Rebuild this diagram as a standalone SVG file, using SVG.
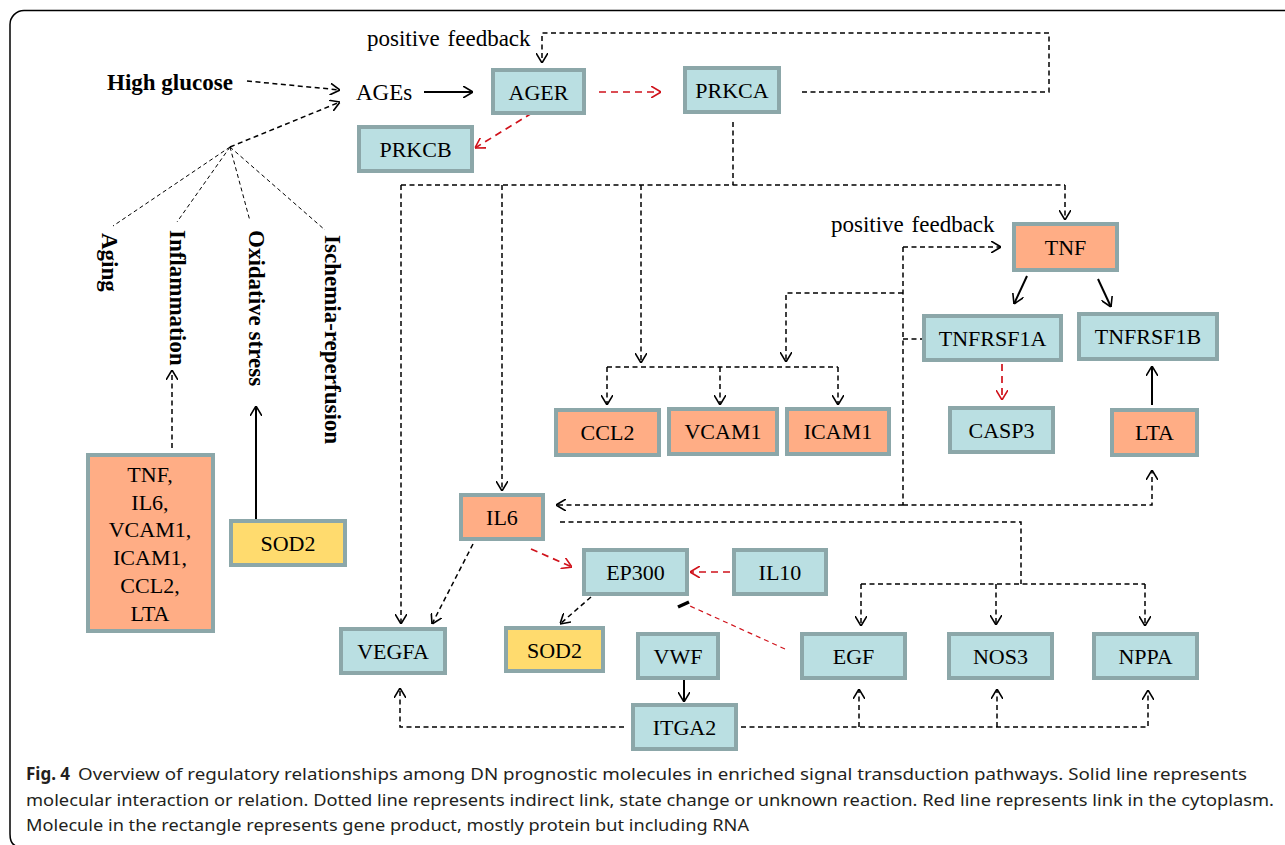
<svg xmlns="http://www.w3.org/2000/svg" width="1285" height="845" viewBox="0 0 1285 845" font-family="'Liberation Serif', 'Times New Roman', serif">
<style>
text.t{font-family:"Liberation Serif","Times New Roman",serif;font-size:22px;fill:#000}
text.l{font-size:23px}
.b{font-weight:bold}
.c{text-anchor:middle}
.blue{fill:#BADFE2;stroke:#8CA7A9;stroke-width:4}
.org{fill:#FFAD85;stroke:#8CA7A9;stroke-width:4}
.yel{fill:#FFDB6E;stroke:#8CA7A9;stroke-width:4}
.d{fill:none;stroke:#000;stroke-width:1.5;stroke-dasharray:5 3.5}
.f{fill:none;stroke:#000;stroke-width:1;stroke-dasharray:4 3}
.s{fill:none;stroke:#000;stroke-width:2}
.r{fill:none;stroke:#D0121B;stroke-width:1.7;stroke-dasharray:7 5}
.rt{fill:none;stroke:#D0121B;stroke-width:1.2;stroke-dasharray:5 4}
.cap{font-family:"Noto Sans","Liberation Sans",sans-serif;font-size:17px;fill:#231F20}
</style>
<defs>
<marker id="ab" viewBox="0 0 10 12" markerWidth="10" markerHeight="12" refX="10" refY="6" orient="auto" markerUnits="userSpaceOnUse">
<path d="M0,0 L10,6 L0,12" fill="none" stroke="#000" stroke-width="1.6" stroke-dasharray="none"/>
</marker>
<marker id="ar" viewBox="0 0 10 12" markerWidth="10" markerHeight="12" refX="10" refY="6" orient="auto" markerUnits="userSpaceOnUse">
<path d="M0,0 L10,6 L0,12" fill="none" stroke="#D0121B" stroke-width="1.6" stroke-dasharray="none"/>
</marker>
</defs>
<rect width="1285" height="845" fill="#fff"/>
<path d="M1286,10.5 H24 A14,14 0 0 0 10,24.5 V834 Q10,844 16,846" fill="none" stroke="#000" stroke-width="1.5"/>

<g id="connectors">
<path class="d" d="M247,81 L340,90" marker-end="url(#ab)"/>
<path class="d" d="M230,147 L340,102" marker-end="url(#ab)"/>
<path class="f" d="M230,147 L113,226 M230,147 L177,222 M230,147 L250,221 M230,147 L325,230"/>
<path class="d" d="M172,448 V370" marker-end="url(#ab)"/>
<path class="s" d="M256,519 V406" marker-end="url(#ab)"/>
<path class="s" d="M424,92 H473" marker-end="url(#ab)"/>
<path class="r" d="M599,92 H661" marker-end="url(#ar)"/>
<path class="r" d="M532,113 L475,148" marker-end="url(#ar)"/>
<path class="d" d="M802,92 H1049 V33 H542 V63" marker-end="url(#ab)"/>
<path class="d" d="M733,122 V185"/>
<path class="d" d="M401,185 H1065"/>
<path class="d" d="M401,185 V624" marker-end="url(#ab)"/>
<path class="d" d="M502,185 V491" marker-end="url(#ab)"/>
<path class="d" d="M641,185 V363" marker-end="url(#ab)"/>
<path class="d" d="M1065,185 V220" marker-end="url(#ab)"/>
<path class="d" d="M903,247 H1001" marker-end="url(#ab)"/>
<path class="d" d="M903,247 V505"/>
<path class="d" d="M903,293 H786 V362" marker-end="url(#ab)"/>
<path class="d" d="M903,339 H922"/>
<path class="d" d="M903,505 H556" marker-end="url(#ab)"/>
<path class="d" d="M903,505 H1152 V470" marker-end="url(#ab)"/>
<path class="d" d="M607,367 H838"/>
<path class="d" d="M607,367 V405" marker-end="url(#ab)"/>
<path class="d" d="M720,367 V405" marker-end="url(#ab)"/>
<path class="d" d="M838,367 V405" marker-end="url(#ab)"/>
<path class="s" d="M1027,276 L1014,304" marker-end="url(#ab)"/>
<path class="s" d="M1098,279 L1111,307" marker-end="url(#ab)"/>
<path class="r" d="M1002,364 V400" marker-end="url(#ar)"/>
<path class="s" d="M1152,405 V366" marker-end="url(#ab)"/>
<path class="d" d="M560,522 H1021 V584"/>
<path class="d" d="M861,584 H1145"/>
<path class="d" d="M861,584 V626" marker-end="url(#ab)"/>
<path class="d" d="M996,584 V625" marker-end="url(#ab)"/>
<path class="d" d="M1145,584 V626" marker-end="url(#ab)"/>
<path class="r" d="M531,549 L572,567" marker-end="url(#ar)"/>
<path class="r" d="M730,572 H690" marker-end="url(#ar)"/>
<path class="d" d="M473,544 L432,624" marker-end="url(#ab)"/>
<path class="d" d="M591,597 L560,624" marker-end="url(#ab)"/>
<path class="s" d="M684,680 V702" marker-end="url(#ab)"/>
<path class="d" d="M624,727 H400 V688" marker-end="url(#ab)"/>
<path class="d" d="M741,727 H1148 V690" marker-end="url(#ab)"/>
<path class="d" d="M859,727 V689" marker-end="url(#ab)"/>
<path class="d" d="M997,727 V689" marker-end="url(#ab)"/>
<path class="rt" d="M785,649 L690,606"/>
<path d="M678,607 L689,602" stroke="#000" stroke-width="3.5" fill="none"/>
</g>

<g id="label-feedback1"><text class="t l" x="367" y="46" word-spacing="2">positive feedback</text></g>
<g id="label-feedback2"><text class="t l" x="831" y="232" word-spacing="2">positive feedback</text></g>
<g id="node-highglucose"><text class="t l b" x="107" y="90">High glucose</text></g>
<g id="node-AGEs"><text class="t l" x="356" y="100">AGEs</text></g>
<g id="node-aging"><text class="t l b" transform="translate(102,233) rotate(90)">Aging</text></g>
<g id="node-inflammation"><text class="t l b" transform="translate(170,230) rotate(90)">Inflammation</text></g>
<g id="node-oxidative"><text class="t l b" transform="translate(249,230) rotate(90)">Oxidative stress</text></g>
<g id="node-ischemia"><text class="t l b" transform="translate(325,235) rotate(90)">Ischemia-reperfusion</text></g>

<g id="node-group"><rect class="org" x="88" y="455" width="125" height="176"/>
<text class="t c" x="150" y="482">TNF,</text>
<text class="t c" x="150" y="510">IL6,</text>
<text class="t c" x="150" y="537">VCAM1,</text>
<text class="t c" x="150" y="565">ICAM1,</text>
<text class="t c" x="150" y="593">CCL2,</text>
<text class="t c" x="150" y="621">LTA</text></g>
<g id="node-SOD2a"><rect class="yel" x="231" y="521" width="114" height="44"/>
<text class="t c" x="288" y="551">SOD2</text></g>
<g id="node-AGER"><rect class="blue" x="493" y="70" width="91" height="43"/>
<text class="t c" x="538.5" y="100">AGER</text></g>
<g id="node-PRKCB"><rect class="blue" x="359" y="127" width="113" height="44"/>
<text class="t c" x="415.5" y="157">PRKCB</text></g>
<g id="node-PRKCA"><rect class="blue" x="685" y="68" width="94" height="44"/>
<text class="t c" x="732" y="98">PRKCA</text></g>
<g id="node-TNF"><rect class="org" x="1014" y="224" width="103" height="46"/>
<text class="t c" x="1065.5" y="255">TNF</text></g>
<g id="node-TNFRSF1A"><rect class="blue" x="924" y="316" width="137" height="44"/>
<text class="t c" x="992.5" y="346">TNFRSF1A</text></g>
<g id="node-TNFRSF1B"><rect class="blue" x="1079" y="314" width="138" height="45"/>
<text class="t c" x="1148" y="344">TNFRSF1B</text></g>
<g id="node-CASP3"><rect class="blue" x="950" y="408" width="103" height="44"/>
<text class="t c" x="1001.5" y="438">CASP3</text></g>
<g id="node-LTA"><rect class="org" x="1112" y="410" width="85" height="45"/>
<text class="t c" x="1154.5" y="440">LTA</text></g>
<g id="node-CCL2"><rect class="org" x="556" y="410" width="103" height="45"/>
<text class="t c" x="607.5" y="440">CCL2</text></g>
<g id="node-VCAM1"><rect class="org" x="669" y="409" width="108" height="45"/>
<text class="t c" x="723" y="439">VCAM1</text></g>
<g id="node-ICAM1"><rect class="org" x="787" y="409" width="102" height="45"/>
<text class="t c" x="838" y="439">ICAM1</text></g>
<g id="node-IL6"><rect class="org" x="461" y="495" width="82" height="44"/>
<text class="t c" x="502" y="525">IL6</text></g>
<g id="node-EP300"><rect class="blue" x="584" y="550" width="103" height="44"/>
<text class="t c" x="635.5" y="580">EP300</text></g>
<g id="node-IL10"><rect class="blue" x="734" y="550" width="92" height="44"/>
<text class="t c" x="780" y="580">IL10</text></g>
<g id="node-VEGFA"><rect class="blue" x="341" y="629" width="104" height="44"/>
<text class="t c" x="393" y="659">VEGFA</text></g>
<g id="node-SOD2b"><rect class="yel" x="506" y="628" width="97" height="43"/>
<text class="t c" x="554.5" y="658">SOD2</text></g>
<g id="node-VWF"><rect class="blue" x="638" y="634" width="80" height="44"/>
<text class="t c" x="678" y="664">VWF</text></g>
<g id="node-ITGA2"><rect class="blue" x="633" y="705" width="103" height="44"/>
<text class="t c" x="684.5" y="735">ITGA2</text></g>
<g id="node-EGF"><rect class="blue" x="802" y="634" width="103" height="44"/>
<text class="t c" x="853.5" y="664">EGF</text></g>
<g id="node-NOS3"><rect class="blue" x="949" y="634" width="103" height="44"/>
<text class="t c" x="1000.5" y="664">NOS3</text></g>
<g id="node-NPPA"><rect class="blue" x="1094" y="634" width="103" height="44"/>
<text class="t c" x="1145.5" y="664">NPPA</text></g>

<g id="caption">
<text class="cap" x="26" y="780" font-weight="bold">Fig. 4</text>
<text class="cap" x="78" y="780" textLength="1169" lengthAdjust="spacingAndGlyphs">Overview of regulatory relationships among DN prognostic molecules in enriched signal transduction pathways. Solid line represents</text>
<text class="cap" x="26" y="806" textLength="1248" lengthAdjust="spacingAndGlyphs">molecular interaction or relation. Dotted line represents indirect link, state change or unknown reaction. Red line represents link in the cytoplasm.</text>
<text class="cap" x="26" y="831" textLength="723" lengthAdjust="spacingAndGlyphs">Molecule in the rectangle represents gene product, mostly protein but including RNA</text>
</g>
</svg>
